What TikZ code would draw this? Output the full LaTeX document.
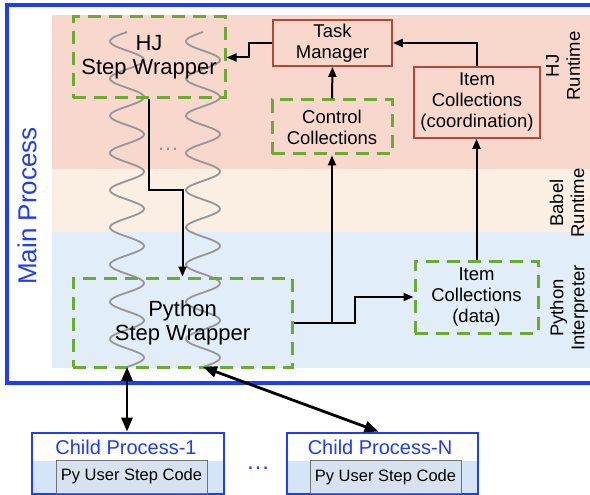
\documentclass[tikz,border=0pt]{standalone}
\usepackage{fontspec}
\setmainfont{Liberation Sans}
\usetikzlibrary{arrows.meta}
\definecolor{pinkband}{RGB}{248,215,205}
\definecolor{beigeband}{RGB}{251,238,227}
\definecolor{blueband}{RGB}{225,237,248}
\definecolor{greendash}{RGB}{110,170,50}
\definecolor{redbox}{RGB}{180,72,55}
\definecolor{mainblue}{RGB}{30,60,250}
\definecolor{childband}{RGB}{212,229,248}
\definecolor{codefill}{RGB}{215,226,240}
\definecolor{wavegray}{RGB}{150,150,150}
\newcommand{\fntBig}{\fontsize{22}{24}\selectfont}
\newcommand{\fntMid}{\fontsize{18.5}{21}\selectfont}
\newcommand{\fntChild}{\fontsize{20}{22}\selectfont}
\newcommand{\fntCode}{\fontsize{16.5}{18}\selectfont}
\newcommand{\fntMain}{\fontsize{26}{28}\selectfont}
\begin{document}
\begin{tikzpicture}[x=1pt,y=-1pt,
  dashbox/.style={draw=greendash, line width=3pt, dash pattern=on 13pt off 8pt,
    inner sep=0pt, align=center, rectangle},
  redbx/.style={draw=redbox, line width=1.8pt, inner sep=0pt, align=center, rectangle},
  arr/.style={line width=2pt, -{Triangle[length=10pt,width=8pt]}},
  bigarr/.style={line width=2.8pt, {Triangle[length=14pt,width=11pt]}-{Triangle[length=14pt,width=11pt]}},
  sidelab/.style={rotate=90, align=center, font=\fntMid, inner sep=0pt},
  wave/.style={draw=wavegray, line width=1.8pt},
  childbox/.style={draw=mainblue, line width=2.8pt, fill=white, inner sep=0pt, rectangle,
    minimum height=61pt,
    path picture={\fill[childband] (path picture bounding box.south west) rectangle ([yshift=33pt]path picture bounding box.south east);}},
  childtitle/.style={text=mainblue, font=\fntChild, inner sep=0pt},
  codebox/.style={draw=black!55, line width=1pt, fill=codefill, inner sep=0pt,
    minimum width=151pt, minimum height=33pt, font=\fntCode, rectangle}
]
\useasboundingbox (0,0) rectangle (590,495);
\clip (0,0) rectangle (590,495);

% main process frame and bands
\draw[mainblue, line width=3.2pt, fill=white] (7,5) rectangle (610,383);
\fill[pinkband] (52,15) rectangle (600,169);
\fill[beigeband] (52,169) rectangle (600,232);
\fill[blueband] (52,232) rectangle (600,368);

% threads (waves)
\draw[wave] plot[domain=32:367, samples=300, smooth] ({127-17*sin(9.672*(\x-32))}, \x);
\draw[wave] plot[domain=32:367, samples=300, smooth] ({203-17*sin(9.672*(\x-32))}, \x);
\coordinate (w1end) at (127,367);
\coordinate (w2end) at (203,367);
\node[text=wavegray, font=\fontsize{22}{24}\selectfont, anchor=base, inner sep=0pt] (tdots) at (168,150) {…};

% boxes
\node[dashbox, minimum width=152pt, minimum height=81pt, font=\fntBig] (hj) at (149,57.5) {HJ\\Step Wrapper};
\node[redbx, minimum width=119pt, minimum height=46pt, font=\fntMid] (tm) at (332.5,43) {Task\\Manager};
\node[dashbox, minimum width=120pt, minimum height=54pt, font=\fntMid] (ctrl) at (332,127) {Control\\Collections};
\node[redbx, minimum width=126pt, minimum height=71pt, font=\fntMid] (icoord) at (477,102.5) {Item\\Collections\\(coordination)};
\node[dashbox, minimum width=123pt, minimum height=72pt, font=\fntMid] (idata) at (476.5,297) {Item\\Collections\\(data)};
\node[dashbox, minimum width=219pt, minimum height=89pt, font=\fntBig] (py) at (182.5,322.5) {Python\\Step Wrapper};

% side labels
\node[sidelab] (hjrt) at (563,66) {HJ\\Runtime};
\node[sidelab] (babel) at (567,203) {Babel\\Runtime};
\node[sidelab] (pyint) at (569,308) {Python\\Interpreter};
\node[rotate=90, text=mainblue, font=\fntMain, inner sep=0pt] (mainp) at (27,206) {Main Process};

% connectors
\draw[arr] (tm.west) -- ++(-23,0) |- (hj.east);
\draw[arr] (ctrl.north) -- (tm.south);
\draw[arr] (icoord.north) |- (tm.east);
\draw[arr] (idata.north) -- (idata.north |- icoord.south);
\draw[arr] (hj.south) -- ++(0,90) -| (py.north);
\draw[arr] (py.east) -- ++(61,0) |- (idata.west);
\draw[arr] (py.east -| ctrl.south) -- (ctrl.south);

% child processes
\node[childbox, minimum width=192pt] (c1) at (128,463.5) {};
\node[childtitle] (c1t) at (126,447) {Child Process-1};
\node[codebox] (c1c) at (131.5,476.5) {Py User Step Code};
\node[childbox, minimum width=191pt] (cn) at (382.5,463.5) {};
\node[childtitle] (cnt) at (380,447) {Child Process-N};
\node[codebox] (cnc) at (385.5,477) {Py User Step Code};
\node[text=mainblue, font=\fontsize{24}{26}\selectfont, anchor=base, inner sep=0pt] (cdots) at (258,469) {…};

\draw[bigarr] (w1end) -- (w1end |- c1.north);
\draw[bigarr] (w2end) -- ([xshift=-4pt]cn.north);
\end{tikzpicture}
\end{document}
